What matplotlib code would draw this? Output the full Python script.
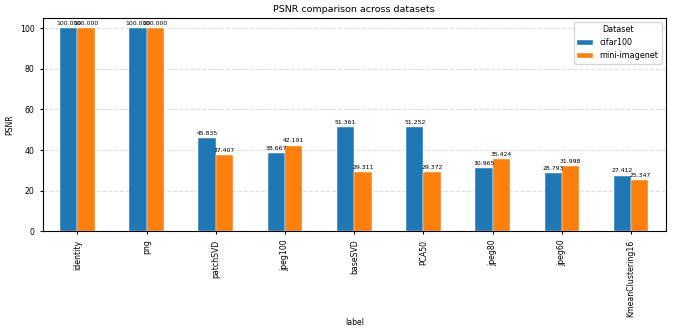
"""PSNR bar chart per compression method"""

import pandas as pd
import matplotlib

matplotlib.use("Agg")
import matplotlib.pyplot as plt

LABELS = [
    "identity", "png", "patchSVD", "jpeg100", "baseSVD",
    "PCA50", "jpeg80", "jpeg60", "KmeanClustering16",
]
CIFAR100 = [100.0, 100.0, 45.835, 38.667, 51.361, 51.252, 30.965, 28.793, 27.412]
MINI_IMAGENET = [100.0, 100.0, 37.407, 42.191, 29.311, 29.372, 35.424, 31.998, 25.347]

df = pd.DataFrame(
    {"cifar100": CIFAR100, "mini-imagenet": MINI_IMAGENET},
    index=pd.Index(LABELS, name="label"),
)
df.columns.name = "Dataset"

fig, ax = plt.subplots(figsize=(6.78, 3.28), dpi=100)
df.plot(kind="bar", ax=ax, edgecolor="white", linewidth=0.3)

for container in ax.containers:
    ax.bar_label(container, fmt="%.3f", fontsize=4.4, padding=1.5)

ax.set_title("PSNR comparison across datasets", fontsize=6.8, pad=4)
ax.set_ylabel("PSNR", fontsize=5.6, labelpad=4)
ax.set_xlabel("label", fontsize=5.6, labelpad=1)
ax.tick_params(labelsize=5.6, length=2.5)
ax.grid(axis="y", linestyle="--", alpha=0.4)
ax.set_axisbelow(True)
ax.legend(title="Dataset", fontsize=5.8, title_fontsize=5.8, loc="upper right")

fig.subplots_adjust(left=0.063, right=0.982, top=0.945, bottom=0.295)
fig.savefig("out.png", dpi=100)
